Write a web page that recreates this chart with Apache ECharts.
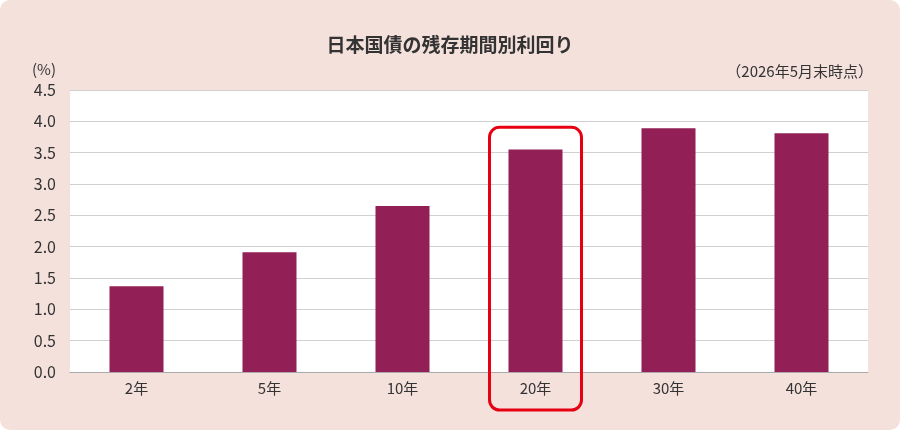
<!DOCTYPE html>
<html>
<head>
<meta charset="utf-8">
<script src="https://cdn.jsdelivr.net/npm/echarts@6/dist/echarts.min.js"></script>
<style>
html, body { margin: 0; padding: 0; background: #fff; }
#wrap { width: 900px; height: 430px; background: #f4e1dc; border-radius: 10px; }
#chart { width: 900px; height: 430px; }
</style>
</head>
<body>
<div id="wrap"><div id="chart"></div></div>
<script>
// 残存期間と利回り (%)
const categories = ['2年', '5年', '10年', '20年', '30年', '40年'];
const yields = [1.37, 1.91, 2.65, 3.55, 3.89, 3.81];
const highlight = '20年';

const font = '"Noto Sans CJK JP", "Noto Sans", sans-serif';

let chart = echarts.init(document.getElementById('chart'), null, { renderer: 'canvas' });

let option = {
    backgroundColor: 'transparent',
    animation: false,
    textStyle: { fontFamily: font },
    title: [{
        text: '日本国債の残存期間別利回り',
        left: 'center',
        top: 30,
        textStyle: { fontSize: 19, fontWeight: 'bold', color: '#333', fontFamily: font }
    }, {
        text: '（2026年5月末時点）',
        right: 22,
        top: 59,
        textStyle: { fontSize: 15, fontWeight: 'normal', color: '#333', fontFamily: font }
    }],
    grid: {
        left: 70, right: 32, top: 90, bottom: 58,
        show: true, backgroundColor: '#fff', borderWidth: 0
    },
    xAxis: {
        type: 'category',
        data: categories,
        axisLine: { lineStyle: { color: '#aaa', width: 1 } },
        axisTick: { show: false },
        axisLabel: { color: '#333', fontSize: 15, margin: 9, fontFamily: font }
    },
    yAxis: {
        type: 'value',
        min: 0, max: 4.5, interval: 0.5,
        name: '(%)',
        nameLocation: 'end',
        nameGap: 13,
        nameTextStyle: { color: '#333', fontSize: 15, align: 'right', padding: [0, 14, 0, 0], fontFamily: font },
        axisLine: { show: false },
        axisTick: { show: false },
        axisLabel: {
            color: '#333', fontSize: 16, margin: 14, fontFamily: font,
            formatter: function (v) { return v.toFixed(1); }
        },
        splitLine: { lineStyle: { color: '#d0d0d0', width: 1 } }
    },
    series: [{
        type: 'bar',
        data: yields,
        barWidth: 54,
        itemStyle: { color: '#921f55' }
    }]
};
chart.setOption(option);

// 20年の枠 (位置は軸から計算)
let idx = categories.indexOf(highlight);
let boxTop = chart.convertToPixel({ xAxisIndex: 0, yAxisIndex: 0 }, [idx, 4.0]);
let boxBase = chart.convertToPixel({ xAxisIndex: 0, yAxisIndex: 0 }, [idx, 0]);
chart.setOption({
    graphic: [{
        type: 'rect',
        shape: { x: boxTop[0] - 46, y: boxTop[1] + 6, width: 92, height: boxBase[1] - boxTop[1] + 32, r: 10 },
        style: { fill: 'none', stroke: '#e60012', lineWidth: 3 },
        z: 100
    }]
});
</script>
</body>
</html>
